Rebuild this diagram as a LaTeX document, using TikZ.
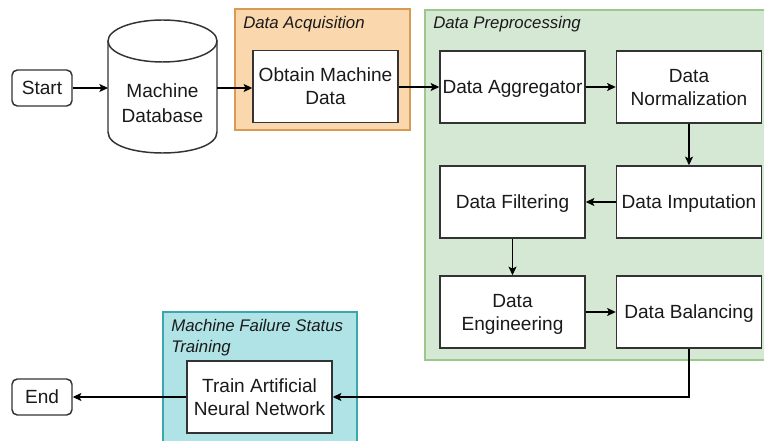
\documentclass[tikz,border=0pt]{standalone}
\usepackage{fontspec}
\setmainfont{Liberation Sans}
\usetikzlibrary{arrows.meta}
\definecolor{edge}{HTML}{333333}
\definecolor{txt}{HTML}{1A1A1A}
\definecolor{acqfill}{HTML}{FAD7AC}
\definecolor{acqline}{HTML}{D79B52}
\definecolor{prefill}{HTML}{D5E8D4}
\definecolor{preline}{HTML}{9CC98A}
\definecolor{trnfill}{HTML}{B0E3E6}
\definecolor{trnline}{HTML}{3AA7AE}
\tikzset{
  stepbox/.style={draw=edge, line width=1.1pt, fill=white, text=txt,
    minimum width=108.75pt, minimum height=54pt, align=center,
    font=\fontsize{14.3}{17.3}\selectfont, inner sep=0pt, text depth=0pt},
  term/.style={draw=edge, line width=1.1pt, fill=white, rounded corners=4pt,
    minimum width=45pt, minimum height=27pt, text=txt,
    font=\fontsize{14.3}{17.3}\selectfont, inner sep=0pt},
  group/.style={line width=1pt},
  grouplabel/.style={anchor=north west, align=left, text=txt, inner sep=0pt,
    font=\fontsize{12.6}{15.8}\selectfont\itshape},
  flow/.style={draw=black, line width=0.9pt,
    -{Stealth[length=6.5pt,width=6pt,inset=1.5pt]}}
}
\begin{document}
\begin{tikzpicture}[x=0.75pt,y=-0.75pt]
\useasboundingbox (0,0) rectangle (764,441);

% group containers
\draw[group, fill=acqfill, draw=acqline] (235,9) rectangle (410,130);
\node[grouplabel] (lblacq) at (243,16) {Data Acquisition};
\draw[group, fill=prefill, draw=preline] (425,10) rectangle (775,360);
\node[grouplabel] (lblpre) at (433,16) {Data Preprocessing};
\draw[group, fill=trnfill, draw=trnline] (163,312) rectangle (357,450);
\node[grouplabel] (lbltrn) at (171,319) {Machine Failure Status\\Training};

% terminals
\node[term] (start) at (42,88) {Start};
\node[term] (end) at (42,397) {End};

% machine database cylinder
\draw[edge, line width=1.1pt, fill=white]
  (108,41) -- (108,132) .. controls (108,160) and (217,160) .. (217,132)
  -- (217,41);
\draw[edge, line width=1.1pt, fill=white] (162.5,41) ellipse [x radius=54.5, y radius=21];
\node[text=txt, align=center, font=\fontsize{14.3}{18.8}\selectfont,
  minimum width=81.75pt, minimum height=99pt, inner sep=0pt, text depth=0pt] (db) at (162.5,103) {Machine\\Database};

% process steps
\node[stepbox] (obtain) at (325.5,86.5) {Obtain Machine\\Data};
\node[stepbox] (aggr) at (512.5,87) {Data Aggregator};
\node[stepbox] (norm) at (689,87) {Data\\Normalization};
\node[stepbox] (imput) at (689,202) {Data Imputation};
\node[stepbox] (filt) at (512.5,202) {Data Filtering};
\node[stepbox] (eng) at (512.5,312) {Data\\Engineering};
\node[stepbox] (bal) at (689,312) {Data Balancing};
\node[stepbox] (train) at (259.5,397) {Train Artificial\\Neural Network};

% connectors
\draw[flow] (start.east) -- (start.east -| 108,0);
\draw[flow] (217,88) -- (obtain.west |- 0,88);
\draw[flow] (obtain.east |- aggr.west) -- (aggr.west);
\draw[flow] (aggr) -- (norm);
\draw[flow] (norm) -- (imput);
\draw[flow] (imput) -- (filt);
\draw[flow] (filt) -- (eng);
\draw[flow] (eng) -- (bal);
\draw[flow] (bal.south) |- (train.east);
\draw[flow] (train.west) -- (end.east);
\end{tikzpicture}
\end{document}
